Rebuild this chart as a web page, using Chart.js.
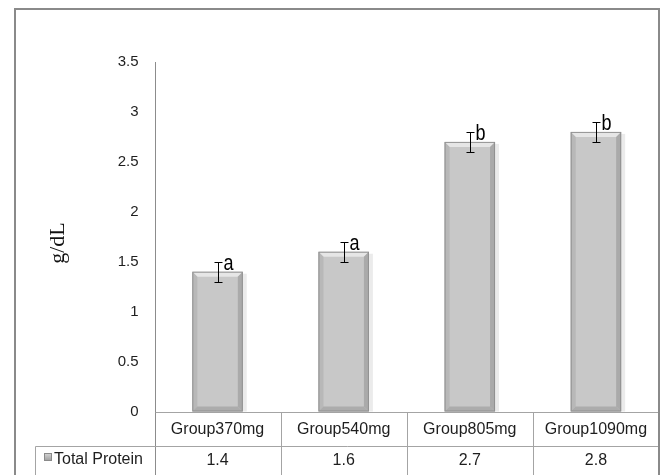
<!DOCTYPE html>
<html><head><meta charset="utf-8">
<script src="https://cdn.jsdelivr.net/npm/chart.js@4.4.1/dist/chart.umd.min.js"></script>
<style>html,body{margin:0;padding:0;background:#fff}canvas{display:block}</style>
</head><body>
<canvas id="c" width="664" height="475"></canvas>
<script>
const categories = ['Group370mg', 'Group540mg', 'Group805mg', 'Group1090mg'];
const totalProtein = [1.4, 1.6, 2.7, 2.8];
const errorValues = [0.1, 0.1, 0.1, 0.1];
const groupLetters = ['a', 'a', 'b', 'b'];
const seriesName = 'Total Protein';
const yAxisTitle = 'g/dL';
const yMin = 0, yMax = 3.5, yStep = 0.5;

const FONT = "'Liberation Sans', Arial, sans-serif";
const TXT = '#1e1e1e';
const TABLE = '#a4a4a4';

const decorPlugin = {
  id: 'decor',
  beforeDatasetsDraw(chart) {
    const ctx = chart.ctx;
    const meta = chart.getDatasetMeta(0);
    ctx.save();
    meta.data.forEach(bar => {
      const w = bar.width, x0 = bar.x - w / 2;
      ctx.fillStyle = 'rgba(0,0,0,0.08)';
      ctx.fillRect(x0 + 2, bar.y + 2, w + 2, bar.base - bar.y - 2);
    });
    ctx.restore();
  },
  afterDatasetsDraw(chart) {
    const ctx = chart.ctx;
    const meta = chart.getDatasetMeta(0);
    const ys = chart.scales.y;
    ctx.save();
    meta.data.forEach((bar, i) => {
      const w = bar.width, x0 = bar.x - w / 2, x1 = bar.x + w / 2;
      const y0 = bar.y, y1 = bar.base, b = 5;
      const poly = (pts, col) => {
        ctx.beginPath(); ctx.moveTo(pts[0][0], pts[0][1]);
        for (let k = 1; k < pts.length; k++) ctx.lineTo(pts[k][0], pts[k][1]);
        ctx.closePath(); ctx.fillStyle = col; ctx.fill();
      };
      poly([[x0, y0], [x1, y0], [x1 - b, y0 + b], [x0 + b, y0 + b]], '#e6e6e6');
      poly([[x0, y0], [x0 + b, y0 + b], [x0 + b, y1 - b], [x0, y1]], '#b8b8b8');
      poly([[x1, y0], [x1 - b, y0 + b], [x1 - b, y1 - b], [x1, y1]], '#aaaaaa');
      poly([[x0, y1], [x0 + b, y1 - b], [x1 - b, y1 - b], [x1, y1]], '#acacac');
      ctx.strokeStyle = '#919191'; ctx.lineWidth = 1;
      ctx.strokeRect(x0 + 0.5, y0 + 0.5, w - 1, y1 - y0 - 1);
      // error bar
      const v = totalProtein[i], e = errorValues[i];
      const yt = Math.round(ys.getPixelForValue(v + e)) + 0.5;
      const yb = Math.round(ys.getPixelForValue(v - e)) + 0.5;
      const cx = Math.round(bar.x) + 0.5;
      ctx.strokeStyle = '#000'; ctx.lineWidth = 1;
      ctx.beginPath();
      ctx.moveTo(cx, yt); ctx.lineTo(cx, yb);
      ctx.moveTo(cx - 4, yt); ctx.lineTo(cx + 4, yt);
      ctx.moveTo(cx - 4, yb); ctx.lineTo(cx + 4, yb);
      ctx.stroke();
      // letter
      ctx.fillStyle = '#000';
      ctx.font = '18px ' + FONT;
      ctx.textAlign = 'left'; ctx.textBaseline = 'alphabetic';
      ctx.save();
      ctx.translate(cx + 5, yt + 7);
      ctx.scale(1, 1.2);
      ctx.fillText(groupLetters[i], 0, 0);
      ctx.restore();
    });
    ctx.restore();
  },
  afterDraw(chart) {
    const ctx = chart.ctx;
    const xs = chart.scales.x, ys = chart.scales.y;
    const ca = chart.chartArea;
    const H = chart.height;
    ctx.save();
    const L = Math.round(ca.left) + 0.5;
    const B = Math.round(ca.bottom) + 0.5;
    const T = Math.round(ys.getPixelForValue(yMax));
    // y axis line (extends down through table)
    ctx.strokeStyle = '#8c8c8c'; ctx.lineWidth = 1;
    ctx.beginPath(); ctx.moveTo(L, T); ctx.lineTo(L, H); ctx.stroke();
    // table lines
    ctx.strokeStyle = TABLE;
    ctx.beginPath();
    ctx.moveTo(L, B); ctx.lineTo(ca.right, B);
    const rowY = 446.5;
    ctx.moveTo(35.5, rowY); ctx.lineTo(ca.right, rowY);
    ctx.moveTo(35.5, rowY); ctx.lineTo(35.5, H);
    for (let i = 0; i < categories.length - 1; i++) {
      const xb = Math.round((xs.getPixelForValue(i) + xs.getPixelForValue(i + 1)) / 2) + 0.5;
      ctx.moveTo(xb, B); ctx.lineTo(xb, H);
    }
    ctx.stroke();
    // values row
    ctx.fillStyle = TXT;
    ctx.font = '16px ' + FONT;
    ctx.textAlign = 'center'; ctx.textBaseline = 'middle';
    totalProtein.forEach((v, i) => {
      ctx.fillText(String(v), xs.getPixelForValue(i), 461);
    });
    // legend key
    const g = ctx.createLinearGradient(0, 453, 0, 461);
    g.addColorStop(0, '#d8d8d8'); g.addColorStop(1, '#9c9c9c');
    ctx.fillStyle = g; ctx.fillRect(44, 453, 8, 8);
    ctx.strokeStyle = '#8a8a8a'; ctx.strokeRect(44.5, 453.5, 7, 7);
    ctx.fillStyle = TXT; ctx.textAlign = 'left';
    ctx.fillText(seriesName, 54, 460);
    // y title
    ctx.save();
    ctx.translate(58, 243);
    ctx.rotate(-Math.PI / 2);
    ctx.font = '22px "Liberation Serif", "Times New Roman", serif';
    ctx.fillStyle = '#111';
    ctx.textAlign = 'center'; ctx.textBaseline = 'middle';
    ctx.fillText(yAxisTitle, 0, 0);
    ctx.restore();
    // outer border
    ctx.strokeStyle = '#8a8a8a'; ctx.lineWidth = 2;
    ctx.strokeRect(15, 9, 644, H + 10);
    ctx.restore();
  }
};

new Chart(document.getElementById('c'), {
  type: 'bar',
  data: {
    labels: categories,
    datasets: [{
      label: seriesName,
      data: totalProtein,
      backgroundColor: '#c8c8c8',
      borderWidth: 0,
      barPercentage: 0.4,
      categoryPercentage: 1.0
    }]
  },
  options: {
    responsive: false,
    animation: false,
    devicePixelRatio: 1,
    layout: { padding: { left: 0, right: 5, top: 62, bottom: 0 } },
    plugins: { legend: { display: false }, tooltip: { enabled: false }, title: { display: false } },
    scales: {
      x: {
        offset: true,
        grid: { display: false, drawTicks: false },
        border: { display: false },
        ticks: { color: TXT, font: { family: FONT, size: 16 }, padding: 8, maxRotation: 0, autoSkip: false },
        afterFit(scale) { scale.height = 63.5; }
      },
      y: {
        min: yMin, max: yMax,
        grid: { display: false, drawTicks: false },
        border: { display: false },
        ticks: {
          stepSize: yStep, color: TXT, font: { family: FONT, size: 15 }, padding: 16,
          callback: (value) => String(value)
        },
        afterFit(scale) { scale.width = 154.5; }
      }
    }
  },
  plugins: [decorPlugin]
});
</script>
</body></html>
